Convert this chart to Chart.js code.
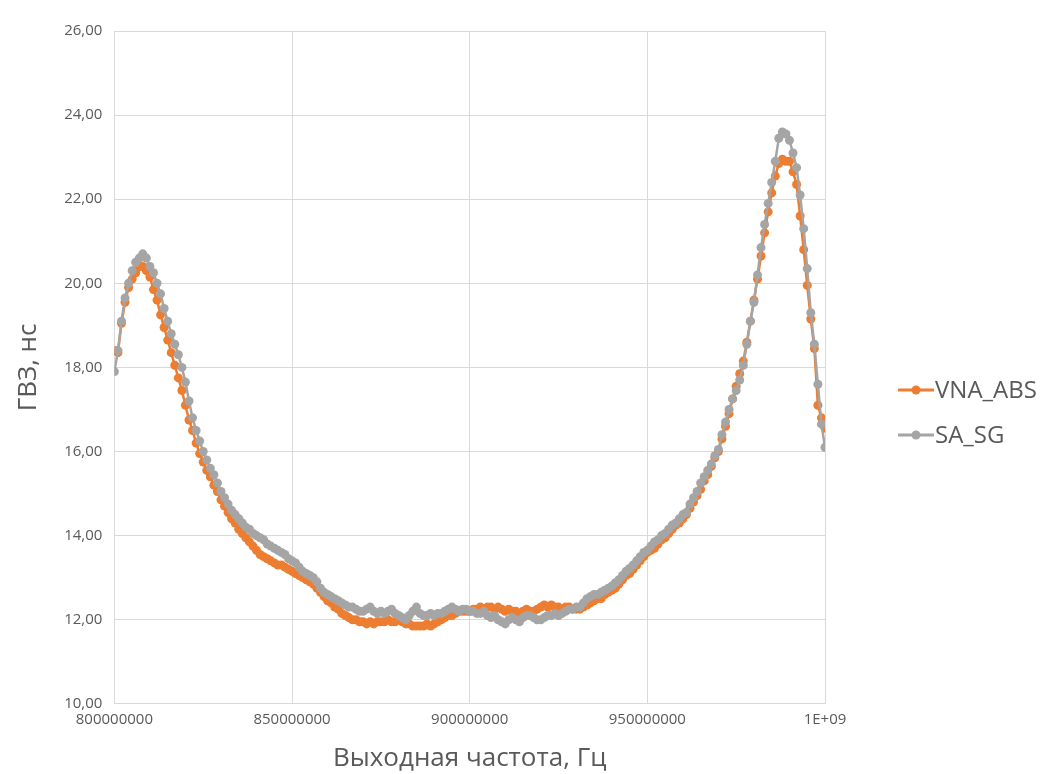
<!DOCTYPE html>
<html>
<head>
<meta charset="utf-8">
<script src="https://cdn.jsdelivr.net/npm/chart.js@4"></script>
<style>
  html, body { margin: 0; padding: 0; background: #fff; }
  #wrap { width: 1064px; height: 774px; }
</style>
</head>
<body>
<div id="wrap"><canvas id="myChart" width="1064" height="774"></canvas></div>
<script>
// frequency grid: 800 MHz .. 1 GHz, 1 MHz step
const freqStart = 800000000;
const freqStep = 1000000;

const xTicks = [800000000, 850000000, 900000000, 950000000, 1000000000];
const yTicks = [10, 12, 14, 16, 18, 20, 22, 24, 26];

// group delay, ns
const vnaAbs = [
    18.40, 18.35, 19.05, 19.55, 19.90, 20.10, 20.25, 20.40, 20.40, 20.30,
    20.15, 19.85, 19.60, 19.25, 18.95, 18.65, 18.35, 18.05, 17.75, 17.45,
    17.10, 16.75, 16.50, 16.20, 15.95, 15.75, 15.55, 15.40, 15.20, 15.05,
    14.85, 14.70, 14.55, 14.40, 14.30, 14.15, 14.05, 13.95, 13.85, 13.75,
    13.65, 13.55, 13.50, 13.45, 13.40, 13.35, 13.30, 13.30, 13.25, 13.20,
    13.15, 13.10, 13.05, 13.00, 12.95, 12.90, 12.85, 12.75, 12.65, 12.55,
    12.45, 12.40, 12.30, 12.25, 12.15, 12.10, 12.05, 12.00, 12.00, 11.95,
    11.95, 11.90, 11.95, 11.90, 11.95, 11.95, 11.95, 12.00, 11.95, 11.95,
    12.00, 11.95, 11.90, 11.90, 11.85, 11.85, 11.85, 11.85, 11.90, 11.85,
    11.90, 11.95, 12.00, 12.05, 12.10, 12.10, 12.15, 12.20, 12.20, 12.20,
    12.20, 12.25, 12.25, 12.30, 12.25, 12.30, 12.30, 12.25, 12.30, 12.25,
    12.20, 12.25, 12.20, 12.20, 12.15, 12.20, 12.25, 12.20, 12.20, 12.25,
    12.30, 12.35, 12.30, 12.35, 12.30, 12.30, 12.25, 12.30, 12.30, 12.25,
    12.25, 12.25, 12.30, 12.35, 12.40, 12.45, 12.50, 12.50, 12.60, 12.65,
    12.70, 12.75, 12.85, 12.95, 13.05, 13.10, 13.20, 13.30, 13.40, 13.50,
    13.60, 13.65, 13.70, 13.80, 13.90, 13.95, 14.05, 14.15, 14.25, 14.30,
    14.40, 14.50, 14.65, 14.80, 14.95, 15.10, 15.30, 15.45, 15.65, 15.85,
    16.00, 16.30, 16.60, 16.90, 17.25, 17.55, 17.85, 18.15, 18.60, 19.10,
    19.60, 20.10, 20.65, 21.20, 21.70, 22.15, 22.55, 22.85, 22.95, 22.90,
    22.90, 22.65, 22.35, 21.60, 20.80, 19.95, 19.15, 18.45, 17.10, 16.80,
    16.55
];

const saSg = [
    17.90, 18.40, 19.10, 19.65, 20.00, 20.30, 20.50, 20.60, 20.70, 20.60,
    20.40, 20.25, 20.00, 19.75, 19.40, 19.10, 18.80, 18.55, 18.30, 18.00,
    17.65, 17.20, 16.80, 16.50, 16.25, 16.00, 15.80, 15.60, 15.45, 15.25,
    15.05, 14.90, 14.75, 14.60, 14.50, 14.40, 14.30, 14.20, 14.15, 14.05,
    14.00, 13.95, 13.90, 13.80, 13.75, 13.70, 13.65, 13.60, 13.55, 13.45,
    13.40, 13.35, 13.25, 13.15, 13.10, 13.05, 13.00, 12.90, 12.75, 12.65,
    12.60, 12.55, 12.50, 12.45, 12.40, 12.35, 12.30, 12.30, 12.25, 12.20,
    12.20, 12.25, 12.30, 12.20, 12.15, 12.20, 12.15, 12.20, 12.25, 12.15,
    12.10, 12.05, 12.00, 12.10, 12.20, 12.30, 12.15, 12.10, 12.10, 12.15,
    12.10, 12.15, 12.15, 12.20, 12.25, 12.30, 12.25, 12.20, 12.25, 12.25,
    12.20, 12.20, 12.15, 12.15, 12.20, 12.10, 12.05, 12.10, 12.00, 11.95,
    11.90, 12.00, 12.05, 12.00, 11.95, 12.05, 12.10, 12.10, 12.05, 12.00,
    12.00, 12.05, 12.10, 12.10, 12.15, 12.10, 12.15, 12.20, 12.25, 12.25,
    12.30, 12.30, 12.40, 12.50, 12.55, 12.60, 12.60, 12.65, 12.70, 12.75,
    12.80, 12.88, 12.95, 13.05, 13.15, 13.22, 13.30, 13.40, 13.50, 13.60,
    13.65, 13.75, 13.85, 13.90, 14.00, 14.05, 14.15, 14.25, 14.30, 14.40,
    14.50, 14.55, 14.75, 14.90, 15.05, 15.25, 15.40, 15.55, 15.70, 15.90,
    16.05, 16.40, 16.70, 17.00, 17.25, 17.45, 17.70, 18.05, 18.55, 19.10,
    19.55, 20.20, 20.85, 21.40, 21.90, 22.40, 22.90, 23.45, 23.60, 23.55,
    23.40, 23.10, 22.75, 22.10, 21.30, 20.35, 19.30, 18.55, 17.60, 16.65,
    16.10
];

const seriesNames = ['VNA_ABS', 'SA_SG'];
const seriesColors = ['#ED7D31', '#A5A5A5'];

function toPoints(values) {
    return values.map((v, i) => ({ x: freqStart + i * freqStep, y: v }));
}

// legend like in Excel: short line with a marker in the middle
const sideLegend = {
    id: 'sideLegend',
    afterDraw(chart) {
        const ctx = chart.ctx;
        const x0 = 898;
        chart.data.datasets.forEach((ds, i) => {
            const y = 390 + i * 45;
            ctx.save();
            ctx.strokeStyle = ds.borderColor;
            ctx.lineWidth = 3;
            ctx.beginPath();
            ctx.moveTo(x0, y);
            ctx.lineTo(x0 + 36, y);
            ctx.stroke();
            ctx.fillStyle = ds.borderColor;
            ctx.beginPath();
            ctx.arc(x0 + 18, y, 4.5, 0, Math.PI * 2);
            ctx.fill();
            ctx.fillStyle = '#595959';
            ctx.font = '24px "Open Sans"';
            ctx.textBaseline = 'middle';
            ctx.fillText(ds.label, x0 + 37, y + 1);
            ctx.restore();
        });
    }
};

const ctx = document.getElementById('myChart');

new Chart(ctx, {
    type: 'line',
    data: {
        datasets: [
            {
                label: seriesNames[0],
                data: toPoints(vnaAbs),
                borderColor: seriesColors[0],
                backgroundColor: seriesColors[0],
                borderWidth: 2.5,
                pointRadius: 4.5,
                pointBorderWidth: 0,
                order: 2
            },
            {
                label: seriesNames[1],
                data: toPoints(saSg),
                borderColor: seriesColors[1],
                backgroundColor: seriesColors[1],
                borderWidth: 2.5,
                pointRadius: 4.5,
                pointBorderWidth: 0,
                order: 1
            }
        ]
    },
    options: {
        responsive: false,
        animation: false,
        layout: {
            padding: { left: 13, right: 239, top: 31, bottom: 0 }
        },
        plugins: {
            legend: { display: false },
            tooltip: { enabled: false }
        },
        scales: {
            x: {
                type: 'linear',
                min: xTicks[0],
                max: xTicks[xTicks.length - 1],
                afterBuildTicks: axis => {
                    axis.ticks = xTicks.map(v => ({ value: v }));
                },
                grid: { color: '#d9d9d9', drawTicks: false },
                border: { color: '#d9d9d9' },
                ticks: {
                    color: '#595959',
                    font: { family: 'Open Sans', size: 15 },
                    padding: 7,
                    maxRotation: 0,
                    callback: v => (v >= 1e9 ? '1E+09' : String(v))
                },
                title: {
                    display: true,
                    text: 'Выходная частота, Гц',
                    color: '#595959',
                    font: { family: 'Open Sans', size: 26 },
                    padding: { top: 7, bottom: 0 }
                }
            },
            y: {
                min: yTicks[0],
                max: yTicks[yTicks.length - 1],
                afterBuildTicks: axis => {
                    axis.ticks = yTicks.map(v => ({ value: v }));
                },
                grid: { color: '#d9d9d9', drawTicks: false },
                border: { color: '#d9d9d9' },
                ticks: {
                    color: '#595959',
                    font: { family: 'Open Sans', size: 15 },
                    padding: 12,
                    callback: v => v.toFixed(2).replace('.', ',')
                },
                title: {
                    display: true,
                    text: 'ГВЗ, нс',
                    color: '#595959',
                    font: { family: 'Open Sans', size: 26 },
                    padding: { top: 0, bottom: 8 }
                }
            }
        }
    },
    plugins: [sideLegend]
});
</script>
</body>
</html>
